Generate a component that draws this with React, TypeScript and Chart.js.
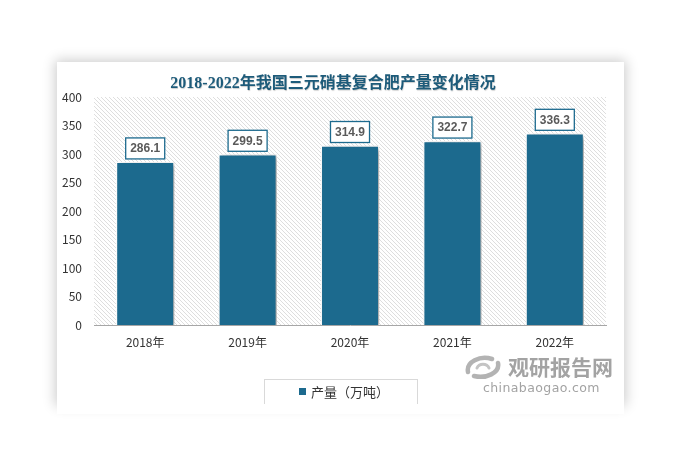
import React, { useEffect, useRef } from "react";
import { Chart, registerables } from "chart.js";

Chart.register(...registerables);

const categories = ["2018年", "2019年", "2020年", "2021年", "2022年"];
const production = [286.1, 299.5, 314.9, 322.7, 336.3];
const seriesName = "产量（万吨）";
const titleText = "2018-2022年我国三元硝基复合肥产量变化情况";
const yMin = 0;
const yMax = 400;
const yStep = 50;

const BAR_COLOR = "#1c6a8e";

export default function App() {
  const ref = useRef<HTMLCanvasElement | null>(null);

  useEffect(() => {
    document.body.style.margin = "0";
    const canvas = ref.current;
    if (!canvas) return;

    const pc = document.createElement("canvas");
    pc.width = 4;
    pc.height = 4;
    const p = pc.getContext("2d")!;
    p.fillStyle = "#ffffff";
    p.fillRect(0, 0, 4, 4);
    p.strokeStyle = "#dadada";
    p.lineWidth = 0.9;
    p.beginPath();
    p.moveTo(-1, -1);
    p.lineTo(5, 5);
    p.stroke();

    const hatchPlugin = {
      id: "hatch",
      beforeDatasetsDraw(chart: any) {
        const { ctx, chartArea } = chart;
        const pat = ctx.createPattern(pc, "repeat");
        ctx.save();
        ctx.fillStyle = pat;
        ctx.fillRect(chartArea.left, chartArea.top, chartArea.right - chartArea.left, chartArea.bottom - chartArea.top);
        ctx.restore();
      },
    };

    const shadowPlugin = {
      id: "barShadow",
      beforeDatasetDraw(chart: any) {
        const ctx = chart.ctx;
        ctx.save();
        ctx.shadowColor = "rgba(0,0,0,0.38)";
        ctx.shadowBlur = 5;
        ctx.shadowOffsetX = 3;
        ctx.shadowOffsetY = 2;
      },
      afterDatasetDraw(chart: any) {
        chart.ctx.restore();
      },
    };

    const labelPlugin = {
      id: "valueLabels",
      afterDatasetsDraw(chart: any) {
        const ctx = chart.ctx;
        const meta = chart.getDatasetMeta(0);
        ctx.save();
        ctx.font = "bold 12px 'Liberation Sans', Arial, sans-serif";
        ctx.textAlign = "center";
        ctx.textBaseline = "middle";
        meta.data.forEach((el: any, i: number) => {
          const txt = production[i].toFixed(1);
          const w = ctx.measureText(txt).width + 9;
          const h = 21;
          const x = el.x - w / 2;
          const y = el.y - 3 - h;
          ctx.fillStyle = "#ffffff";
          ctx.fillRect(x, y, w, h);
          ctx.strokeStyle = BAR_COLOR;
          ctx.lineWidth = 1.3;
          ctx.strokeRect(x, y, w, h);
          ctx.fillStyle = "#5a5a5a";
          ctx.fillText(txt, el.x, y + h / 2 + 0.5);
        });
        ctx.restore();
      },
    };

    const chart = new Chart(canvas, {
      type: "bar",
      data: {
        labels: categories,
        datasets: [
          {
            label: seriesName,
            data: production,
            backgroundColor: BAR_COLOR,
            borderColor: "#ffffff",
            borderWidth: 1.2,
            barPercentage: 0.57,
            categoryPercentage: 1,
          },
        ],
      },
      options: {
        responsive: false,
        animation: false,
        devicePixelRatio: 1,
        layout: { padding: { left: 50, right: 82, top: 97, bottom: 116 } },
        plugins: {
          legend: { display: false },
          title: { display: false },
          tooltip: { enabled: false },
        },
        scales: {
          x: {
            grid: { display: false, drawTicks: false },
            border: { display: true, color: "#a6a6a6", width: 1 },
            ticks: {
              color: "#333333",
              padding: 10,
              font: { family: "'Noto Sans CJK SC', sans-serif", size: 12 },
            },
            afterFit(scale: any) {
              scale.height = 30;
            },
          },
          y: {
            min: yMin,
            max: yMax,
            grid: { display: false, drawTicks: false },
            border: { display: false },
            ticks: {
              stepSize: yStep,
              color: "#333333",
              padding: 12,
              font: { family: "'Noto Sans CJK SC', sans-serif", size: 12 },
            },
            afterFit(scale: any) {
              scale.width = 44;
            },
          },
        },
      },
      plugins: [hatchPlugin, shadowPlugin, labelPlugin],
    });

    return () => chart.destroy();
  }, []);

  return (
    <div style={{ position: "relative", width: 688, height: 471, background: "#ffffff", overflow: "hidden" }}>
      <div
        style={{
          position: "absolute",
          left: 57,
          top: 62,
          width: 567,
          height: 342,
          background: "#ffffff",
          boxShadow: "0 0 12px 2px rgba(0,0,0,0.2)",
        }}
      />
      <div
        style={{
          position: "absolute",
          left: 264,
          top: 379,
          width: 154,
          height: 30,
          border: "1px solid #d9d9d9",
          boxSizing: "border-box",
          background: "#ffffff",
        }}
      />
      <div
        style={{
          position: "absolute",
          left: 57,
          top: 404,
          width: 567,
          height: 10,
          background: "#ffffff",
        }}
      />
      <canvas ref={ref} width={688} height={471} style={{ position: "absolute", left: 0, top: 0 }} />
      <div
        style={{
          position: "absolute",
          left: 133,
          top: 71,
          width: 400,
          textAlign: "center",
          fontFamily: "'Liberation Serif', 'Noto Sans CJK SC', serif",
          fontWeight: "bold",
          fontSize: 16,
          lineHeight: "24px",
          color: "#1d5b7a",
          whiteSpace: "nowrap",
          textShadow: "0.5px 0.5px 1px rgba(0,0,0,0.2)",
        }}
      >
        {titleText}
      </div>
      <div
        style={{
          position: "absolute",
          left: 299,
          top: 382,
          height: 18,
          display: "flex",
          alignItems: "center",
          fontFamily: "'Noto Sans CJK SC', sans-serif",
          fontSize: 13,
          color: "#333333",
          whiteSpace: "nowrap",
        }}
      >
        <span style={{ display: "inline-block", width: 7, height: 7, background: BAR_COLOR, marginRight: 5 }} />
        <span>{seriesName}</span>
      </div>
      <svg style={{ position: "absolute", left: 463, top: 354 }} width={40} height={26} viewBox="0 0 40 26">
        <path d="M5 18 C 3 8, 17 1, 29 5" stroke="#b3b3b3" strokeWidth={4.5} fill="none" strokeLinecap="round" />
        <path d="M35 9 C 37 19, 23 25, 11 22" stroke="#b3b3b3" strokeWidth={4.5} fill="none" strokeLinecap="round" />
        <path d="M14 14 C 16 9, 24 9, 26 14" stroke="#c4c4c4" strokeWidth={3} fill="none" strokeLinecap="round" />
      </svg>
      <div
        style={{
          position: "absolute",
          left: 508,
          top: 353,
          fontFamily: "'Noto Sans CJK SC', sans-serif",
          fontWeight: "bold",
          fontSize: 21,
          lineHeight: "26px",
          color: "#a3a3a3",
          whiteSpace: "nowrap",
          letterSpacing: 0,
        }}
      >
        观研报告网
      </div>
      <div
        style={{
          position: "absolute",
          left: 483,
          top: 381,
          fontFamily: "'DejaVu Sans', sans-serif",
          fontSize: 12.5,
          lineHeight: "14px",
          color: "#a3a3a3",
          whiteSpace: "nowrap",
          letterSpacing: 0.4,
        }}
      >
        chinabaogao.com
      </div>
    </div>
  );
}
